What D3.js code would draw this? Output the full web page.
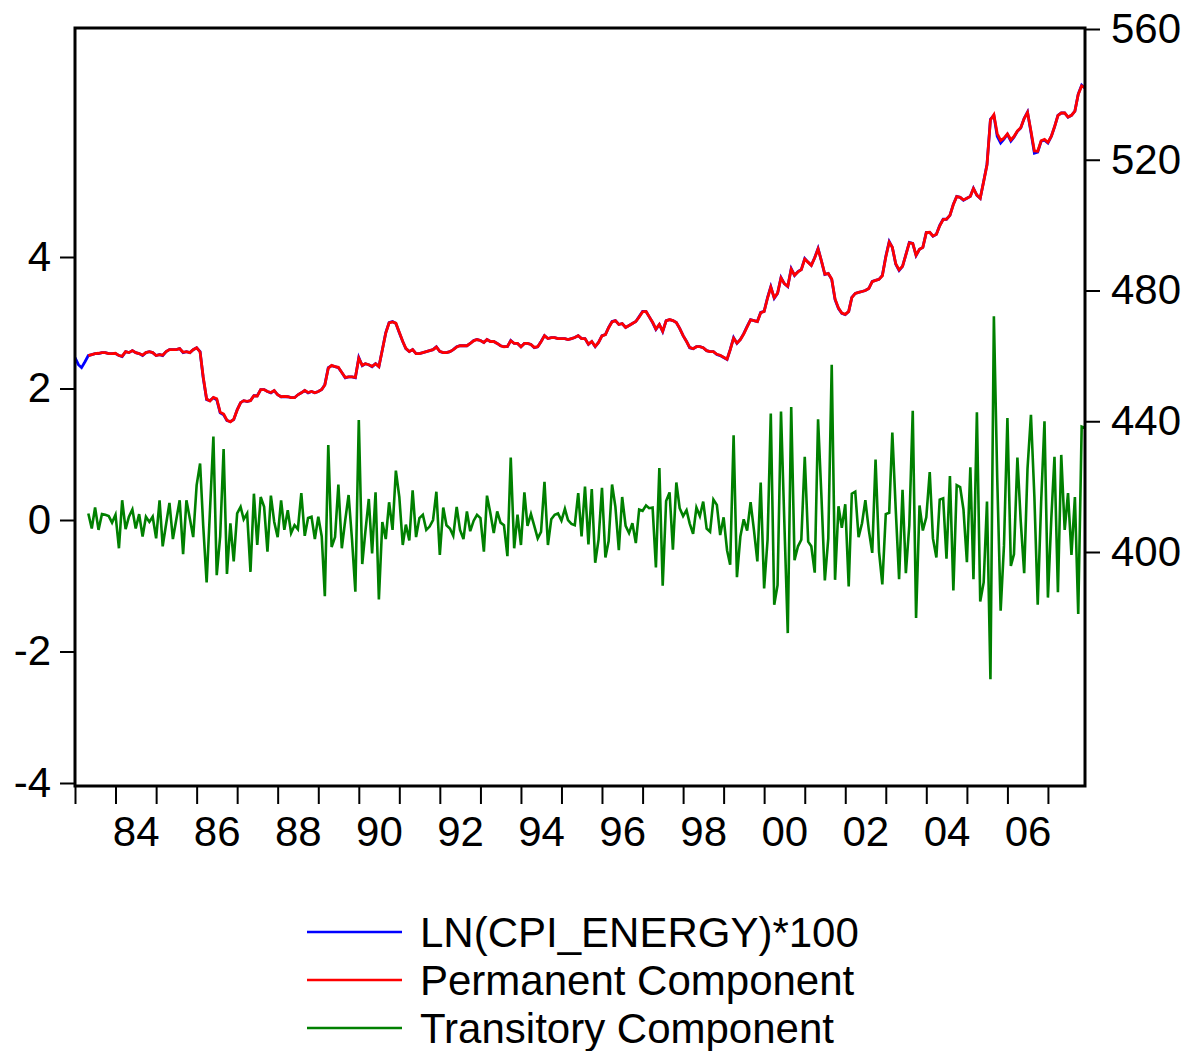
<!DOCTYPE html>
<html>
<head>
<meta charset="utf-8">
<script src="https://cdn.jsdelivr.net/npm/d3@7"></script>
<style>
  body { margin: 0; background: #fff; }
  text { font-family: "Liberation Sans", Arial, sans-serif; }
</style>
</head>
<body>
<script>
// monthly data, 1983:01 - 2007:12
var startYear = 1983;

// ln(cpi energy)*100, right axis
var levelLn = [
  459.5, 457.3, 456.4, 458.2, 460.1, 460.4, 460.7, 460.7, 461.0, 461.0, 460.7, 460.7,
  460.7, 460.1, 459.8, 461.3, 461.0, 461.6, 461.0, 460.7, 460.1, 461.0, 461.3, 461.0,
  460.1, 460.4, 460.1, 461.3, 461.9, 461.9, 461.9, 462.2, 461.0, 461.3, 461.0, 461.9,
  462.5, 461.3, 453.3, 446.6, 446.3, 447.2, 446.6, 442.6, 442.0, 440.2, 439.9, 440.5,
  443.5, 445.7, 446.3, 446.0, 446.3, 447.8, 447.8, 449.7, 449.7, 449.1, 448.7, 449.4,
  448.1, 447.5, 447.5, 447.5, 447.2, 447.2, 448.1, 448.7, 449.4, 448.7, 449.1, 448.7,
  449.1, 449.7, 451.2, 456.4, 457.0, 456.7, 456.4, 454.9, 453.3, 453.6, 453.6, 453.3,
  459.5, 457.0, 457.6, 457.3, 456.7, 457.6, 456.7, 461.9, 467.1, 470.2, 470.5, 469.9,
  467.1, 464.4, 462.2, 461.3, 461.9, 460.7, 460.7, 461.0, 461.3, 461.6, 461.9, 462.8,
  461.3, 461.0, 461.0, 461.3, 461.9, 462.8, 463.1, 463.1, 463.1, 463.8, 464.7, 465.0,
  464.7, 464.1, 465.0, 464.4, 464.4, 463.8, 463.1, 462.8, 462.8, 464.7, 463.8, 463.8,
  462.8, 463.8, 463.8, 463.5, 462.5, 462.8, 464.4, 466.2, 465.3, 465.6, 465.6, 465.3,
  465.3, 465.3, 465.0, 465.3, 465.6, 466.2, 465.3, 465.3, 463.5, 464.4, 462.8, 464.1,
  466.2, 466.5, 468.7, 470.5, 470.8, 469.6, 469.9, 468.7, 469.3, 469.9, 470.5, 472.0,
  473.6, 473.6, 472.0, 470.2, 468.1, 469.6, 467.4, 470.8, 471.1, 470.8, 470.2, 468.4,
  466.2, 464.4, 462.5, 462.2, 462.8, 462.8, 462.5, 461.6, 461.3, 461.3, 460.4, 460.1,
  459.5, 458.9, 461.9, 465.6, 463.8, 465.0, 466.8, 469.0, 471.1, 470.8, 470.5, 473.3,
  473.6, 477.9, 481.2, 477.6, 479.1, 484.0, 482.1, 481.2, 486.7, 484.6, 485.8, 486.4,
  489.8, 488.6, 487.7, 490.1, 492.9, 488.9, 484.9, 485.2, 483.4, 477.2, 474.5, 473.0,
  472.6, 473.6, 477.9, 479.1, 479.4, 479.7, 480.0, 480.6, 482.8, 483.1, 483.4, 484.6,
  490.4, 495.0, 493.2, 488.0, 486.1, 487.4, 491.0, 494.7, 494.4, 490.7, 492.6, 493.2,
  497.8, 497.8, 496.6, 497.2, 499.9, 501.8, 501.8, 503.0, 506.4, 508.8, 508.5, 507.6,
  508.2, 508.8, 511.3, 509.1, 508.2, 513.4, 518.6, 532.4, 533.6, 527.2, 525.1, 526.3,
  527.8, 525.7, 526.9, 528.7, 529.7, 532.7, 534.6, 528.4, 522.0, 522.3, 525.7, 526.0,
  525.1, 527.2, 530.0, 533.6, 534.3, 534.3, 533.0, 533.6, 534.9, 540.1, 542.8, 541.9
];

// permanent component, right axis
var permanent = [
  null, null, null, null, 460.1, 460.4, 460.7, 460.8, 461.0, 461.0, 460.7, 460.7,
  460.8, 460.1, 459.9, 461.3, 461.0, 461.6, 461.0, 460.7, 460.2, 461.0, 461.3, 461.0,
  460.1, 460.4, 460.2, 461.3, 461.9, 461.9, 461.9, 462.2, 461.1, 461.3, 461.0, 461.9,
  462.5, 461.2, 453.6, 446.8, 446.2, 447.3, 446.9, 442.8, 442.2, 440.3, 439.8, 440.6,
  443.4, 445.7, 446.3, 446.1, 446.3, 447.8, 447.7, 449.7, 449.7, 449.1, 448.8, 449.4,
  448.1, 447.5, 447.6, 447.5, 447.2, 447.2, 448.1, 448.7, 449.4, 448.8, 449.1, 448.7,
  449.1, 449.7, 451.1, 456.2, 457.1, 456.7, 456.5, 454.9, 453.4, 453.6, 453.6, 453.4,
  459.3, 457.1, 457.6, 457.3, 456.8, 457.6, 456.7, 461.8, 467.0, 470.1, 470.4, 470.0,
  467.2, 464.4, 462.3, 461.3, 461.9, 460.7, 460.7, 461.0, 461.3, 461.6, 461.9, 462.7,
  461.4, 461.0, 461.0, 461.3, 461.9, 462.7, 463.1, 463.1, 463.1, 463.8, 464.6, 465.0,
  464.7, 464.1, 465.0, 464.4, 464.4, 463.8, 463.1, 462.8, 462.9, 464.6, 463.8, 463.8,
  462.8, 463.8, 463.8, 463.5, 462.6, 462.8, 464.3, 466.2, 465.3, 465.6, 465.6, 465.3,
  465.3, 465.3, 465.0, 465.3, 465.6, 466.2, 465.3, 465.3, 463.6, 464.4, 462.9, 464.1,
  466.1, 466.5, 468.6, 470.4, 470.8, 469.6, 469.9, 468.7, 469.3, 469.9, 470.5, 471.9,
  473.5, 473.6, 472.0, 470.3, 468.2, 469.6, 467.5, 470.7, 471.1, 470.8, 470.2, 468.4,
  466.2, 464.4, 462.6, 462.2, 462.8, 462.8, 462.5, 461.6, 461.3, 461.3, 460.5, 460.2,
  459.6, 459.0, 461.8, 465.4, 463.9, 465.0, 466.7, 468.9, 471.0, 470.8, 470.5, 473.2,
  473.6, 477.7, 481.0, 477.8, 479.2, 483.8, 482.1, 481.3, 486.5, 484.7, 485.7, 486.4,
  489.6, 488.6, 487.7, 490.0, 492.7, 489.0, 485.0, 485.2, 483.5, 477.4, 474.6, 473.1,
  472.7, 473.6, 477.8, 479.1, 479.4, 479.7, 480.0, 480.6, 482.7, 483.1, 483.4, 484.5,
  490.2, 494.8, 493.2, 488.2, 486.3, 487.4, 490.9, 494.6, 494.4, 490.8, 492.6, 493.2,
  497.7, 497.8, 496.7, 497.2, 499.8, 501.7, 501.8, 503.0, 506.3, 508.7, 508.5, 507.7,
  508.2, 508.8, 511.2, 509.2, 508.2, 513.3, 518.4, 532.2, 533.8, 528.0, 525.9, 526.6,
  527.9, 526.1, 527.1, 528.8, 529.8, 532.6, 534.5, 528.8, 522.7, 522.6, 525.8, 526.2,
  525.3, 527.2, 530.0, 533.5, 534.3, 534.3, 533.1, 533.6, 534.9, 540.0, 542.6, 542.1
];

// transitory component, left axis
var transitory = [
  null, null, null, null, 0.10, -0.13, 0.19, -0.15, 0.09, 0.08, 0.06, -0.04,
  0.08, -0.43, 0.30, -0.14, 0.05, 0.16, -0.13, 0.09, -0.25, 0.05, -0.03, 0.05,
  -0.28, 0.30, -0.40, -0.06, 0.26, -0.29, 0.00, 0.30, -0.52, 0.30, 0.02, -0.26,
  0.53, 0.86, -0.08, -0.95, 0.14, 1.27, -0.84, -0.25, 1.08, -0.82, -0.05, -0.63,
  0.10, 0.20, 0.01, 0.10, -0.79, 0.40, -0.38, 0.35, 0.20, -0.48, 0.37, -0.03,
  -0.26, 0.30, -0.15, 0.15, -0.20, -0.08, -0.14, 0.41, -0.24, 0.03, 0.05, -0.29,
  0.05, -0.25, -1.16, 1.14, -0.41, -0.26, 0.54, -0.43, 0.00, 0.38, -0.30, -1.09,
  1.52, -0.67, -0.18, 0.32, -0.51, 0.42, -1.21, -0.03, -0.29, 0.27, -0.15, 0.75,
  0.35, -0.38, -0.07, -0.31, 0.45, -0.26, 0.03, 0.08, -0.15, -0.10, 0.00, 0.43,
  -0.53, 0.19, -0.08, -0.13, -0.24, 0.20, -0.15, -0.29, 0.13, -0.17, -0.01, 0.08,
  0.03, -0.48, 0.37, 0.10, -0.20, 0.13, -0.04, -0.08, -0.55, 0.95, -0.43, 0.08,
  -0.38, 0.42, -0.09, 0.09, -0.09, -0.28, -0.18, 0.58, -0.38, 0.01, 0.08, 0.10,
  -0.01, 0.17, 0.00, -0.06, -0.08, 0.41, -0.25, 0.51, -0.37, 0.47, -0.65, -0.30,
  0.49, -0.57, -0.32, 0.54, 0.20, -0.46, 0.35, -0.09, -0.20, -0.05, -0.35, 0.16,
  0.14, 0.22, 0.18, 0.19, -0.72, 0.79, -1.00, 0.29, 0.42, -0.45, 0.57, 0.18,
  0.06, 0.15, -0.05, -0.21, 0.19, 0.06, 0.28, -0.13, -0.18, 0.31, 0.23, -0.23,
  0.04, -0.46, -0.68, 1.29, -0.87, -0.25, 0.01, -0.16, 0.27, -0.15, -0.63, 0.57,
  -1.04, -0.30, 1.62, -1.29, -0.99, 1.65, -0.03, -1.72, 1.72, -0.61, -0.40, -0.30,
  0.96, -0.33, -0.40, -0.80, 1.53, 0.33, -0.92, -0.28, 2.36, -0.91, 0.21, -0.12,
  0.24, -1.01, 0.40, 0.43, -0.26, -0.05, 0.30, -0.15, -0.50, 0.92, -0.48, -0.98,
  0.09, 0.11, 1.33, 0.15, -0.90, 0.46, -0.81, -0.08, 1.66, -1.49, 0.22, -0.16,
  0.04, 0.73, -0.28, -0.57, 0.31, 0.33, -0.59, 0.67, -1.07, 0.53, 0.50, 0.16,
  -0.64, 0.80, -0.90, 1.64, -1.24, -0.95, 0.28, -2.42, 3.10, 0.65, -1.38, -0.39,
  1.55, -0.70, -0.52, 0.95, -0.02, -0.81, 0.78, 1.60, 0.35, -1.29, 0.28, 1.50,
  -1.18, 0.04, 0.96, -1.10, 0.99, -0.15, 0.41, -0.53, 0.35, -1.43, 1.42, 1.40
];

var leftTicks = [-4, -2, 0, 2, 4];
var rightTicks = [400, 440, 480, 520, 560];
var labelYears = [1984, 1986, 1988, 1990, 1992, 1994, 1996, 1998, 2000, 2002, 2004, 2006];

var seriesNames = ["LN(CPI_ENERGY)*100", "Permanent Component", "Transitory Component"];
var seriesColors = ["#0000ff", "#ff0000", "#008000"];

var width = 1188, height = 1051;
var plot = {left: 75, right: 1085, top: 28, bottom: 786};
var fontSize = "42px";

var svg = d3.select("body").append("svg")
  .attr("width", width)
  .attr("height", height)
  .style("background", "#fff");

var dates = levelLn.map(function(d, i) { return new Date(startYear, i, 1); });

var x = d3.scaleTime()
  .domain([dates[0], dates[dates.length - 1]])
  .range([plot.left, plot.right]);

var yLeft = d3.scaleLinear().domain([-4, 4]).range([783, 257]);
var yRight = d3.scaleLinear().domain([400, 560]).range([552, 29]);

svg.append("clipPath").attr("id", "clip")
  .append("rect")
  .attr("x", plot.left).attr("y", plot.top)
  .attr("width", plot.right - plot.left)
  .attr("height", plot.bottom - plot.top);

function lineFor(scale) {
  return d3.line()
    .defined(function(d) { return d != null; })
    .x(function(d, i) { return x(dates[i]); })
    .y(function(d) { return scale(d); });
}

var lines = svg.append("g").attr("clip-path", "url(#clip)");

lines.append("path").datum(levelLn)
  .attr("d", lineFor(yRight))
  .attr("fill", "none").attr("stroke", seriesColors[0]).attr("stroke-width", 2.8);

lines.append("path").datum(permanent)
  .attr("d", lineFor(yRight))
  .attr("fill", "none").attr("stroke", seriesColors[1]).attr("stroke-width", 2.8);

lines.append("path").datum(transitory)
  .attr("d", lineFor(yLeft))
  .attr("fill", "none").attr("stroke", seriesColors[2]).attr("stroke-width", 2.6);

// axes
function styleAxis(g) {
  g.select(".domain").remove();
  g.selectAll(".tick line").attr("stroke", "#000").attr("stroke-width", 2);
  g.selectAll(".tick text").attr("fill", "#000").style("font-size", fontSize)
    .style("font-family", "'Liberation Sans', Arial, sans-serif");
}

svg.append("g")
  .attr("transform", "translate(" + plot.left + ",0)")
  .call(d3.axisLeft(yLeft).tickValues(leftTicks).tickSize(15).tickPadding(9)
    .tickFormat(function(d) { return String(d); }))
  .call(styleAxis);

svg.append("g")
  .attr("transform", "translate(" + plot.right + ",0)")
  .call(d3.axisRight(yRight).tickValues(rightTicks).tickSize(15).tickPadding(11)
    .tickFormat(function(d) { return String(d); }))
  .call(styleAxis);

// year ticks
svg.append("g")
  .attr("transform", "translate(0," + plot.bottom + ")")
  .call(d3.axisBottom(x).ticks(d3.timeYear.every(1)).tickSize(18).tickFormat(""))
  .call(styleAxis);

// two-digit labels in the middle of even years
svg.append("g")
  .attr("transform", "translate(0," + plot.bottom + ")")
  .call(d3.axisBottom(x)
    .tickValues(labelYears.map(function(y) { return new Date(y, 6, 1); }))
    .tickSize(0).tickPadding(30)
    .tickFormat(d3.timeFormat("%y")))
  .call(styleAxis);

// frame
svg.append("rect")
  .attr("x", plot.left).attr("y", plot.top)
  .attr("width", plot.right - plot.left)
  .attr("height", plot.bottom - plot.top)
  .attr("fill", "none").attr("stroke", "#000").attr("stroke-width", 3);

// legend
var legend = svg.append("g").selectAll("g")
  .data(seriesNames)
  .enter().append("g")
  .attr("transform", function(d, i) { return "translate(0," + (932 + i * 48) + ")"; });

legend.append("line")
  .attr("x1", 307).attr("x2", 402)
  .attr("stroke", function(d, i) { return seriesColors[i]; })
  .attr("stroke-width", 2.5);

legend.append("text")
  .attr("x", 420).attr("dy", "0.35em")
  .style("font-size", fontSize)
  .text(function(d) { return d; });
</script>
</body>
</html>
